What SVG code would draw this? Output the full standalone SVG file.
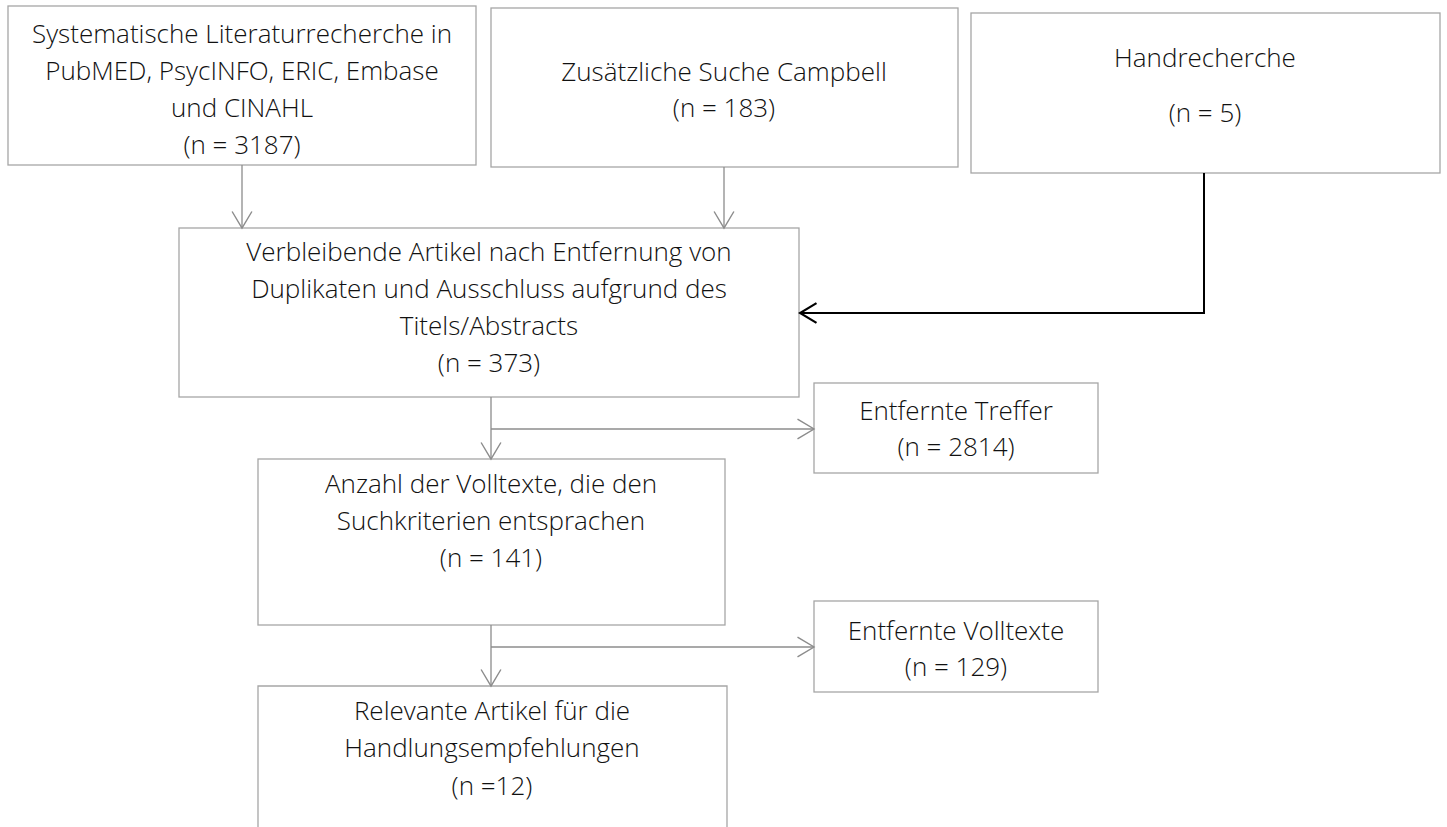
<svg xmlns="http://www.w3.org/2000/svg" width="1447" height="827" viewBox="0 0 1447 827">
<style>
.box{fill:#fff;stroke:#a6a6a6;stroke-width:1.3}
.t{font-family:"Open Sans","Liberation Sans",sans-serif;font-weight:300;font-size:26px;fill:#111;text-anchor:middle}
.c{fill:none;stroke:#8c8c8c;stroke-width:1.3}
.cb{fill:none;stroke:#000;stroke-width:2}
</style>
<defs>
<marker id="ag" markerUnits="userSpaceOnUse" markerWidth="20" markerHeight="22" viewBox="-16 -10 18 20" refX="0" refY="0" orient="auto">
<path d="M-15,-9 L0,0 L-15,9" fill="none" stroke="#8c8c8c" stroke-width="1.3"/>
</marker>
<marker id="ab" markerUnits="userSpaceOnUse" markerWidth="20" markerHeight="22" viewBox="-16 -10 18 20" refX="0" refY="0" orient="auto">
<path d="M-15,-9 L0,0 L-15,9" fill="none" stroke="#000" stroke-width="2"/>
</marker>
</defs>
<rect width="1447" height="827" fill="#fff"/>
<g id="n1"><rect class="box" x="8" y="6" width="468" height="159"/>
<text class="t" x="242" y="43">Systematische Literaturrecherche in</text>
<text class="t" x="242" y="80">PubMED, PsycINFO, ERIC, Embase</text>
<text class="t" x="242" y="117">und CINAHL</text>
<text class="t" x="242" y="154">(n = 3187)</text></g>
<g id="n2"><rect class="box" x="491" y="8" width="467" height="159"/>
<text class="t" x="724" y="81">Zusätzliche Suche Campbell</text>
<text class="t" x="724" y="117">(n = 183)</text></g>
<g id="n3"><rect class="box" x="971" y="13" width="469" height="160"/>
<text class="t" x="1205" y="67">Handrecherche</text>
<text class="t" x="1205" y="122">(n = 5)</text></g>
<g id="n4"><rect class="box" x="179" y="228" width="620" height="169"/>
<text class="t" x="489" y="261">Verbleibende Artikel nach Entfernung von</text>
<text class="t" x="489" y="298">Duplikaten und Ausschluss aufgrund des</text>
<text class="t" x="489" y="335">Titels/Abstracts</text>
<text class="t" x="489" y="372">(n = 373)</text></g>
<g id="n5"><rect class="box" x="814" y="383" width="284" height="90"/>
<text class="t" x="956" y="420">Entfernte Treffer</text>
<text class="t" x="956" y="456">(n = 2814)</text></g>
<g id="n6"><rect class="box" x="258" y="459" width="467" height="166"/>
<text class="t" x="491" y="493">Anzahl der Volltexte, die den</text>
<text class="t" x="491" y="530">Suchkriterien entsprachen</text>
<text class="t" x="491" y="567">(n = 141)</text></g>
<g id="n7"><rect class="box" x="814" y="601" width="284" height="91"/>
<text class="t" x="956" y="640">Entfernte Volltexte</text>
<text class="t" x="956" y="676">(n = 129)</text></g>
<g id="n8"><path class="box" d="M258,840 L258,686 L727,686 L727,840"/>
<text class="t" x="492" y="720">Relevante Artikel für die</text>
<text class="t" x="492" y="757">Handlungsempfehlungen</text>
<text class="t" x="492" y="795">(n =12)</text></g>
<g id="connectors">
<path class="c" d="M242,165 L242,228" marker-end="url(#ag)"/>
<path class="c" d="M724,167 L724,228" marker-end="url(#ag)"/>
<path class="cb" d="M1204,173 L1204,313 L800,313" marker-end="url(#ab)"/>
<path class="c" d="M491,397 L491,459" marker-end="url(#ag)"/>
<path class="c" d="M491,429 L814,429" marker-end="url(#ag)"/>
<path class="c" d="M491,625 L491,686" marker-end="url(#ag)"/>
<path class="c" d="M491,647 L814,647" marker-end="url(#ag)"/>
</g>
</svg>
